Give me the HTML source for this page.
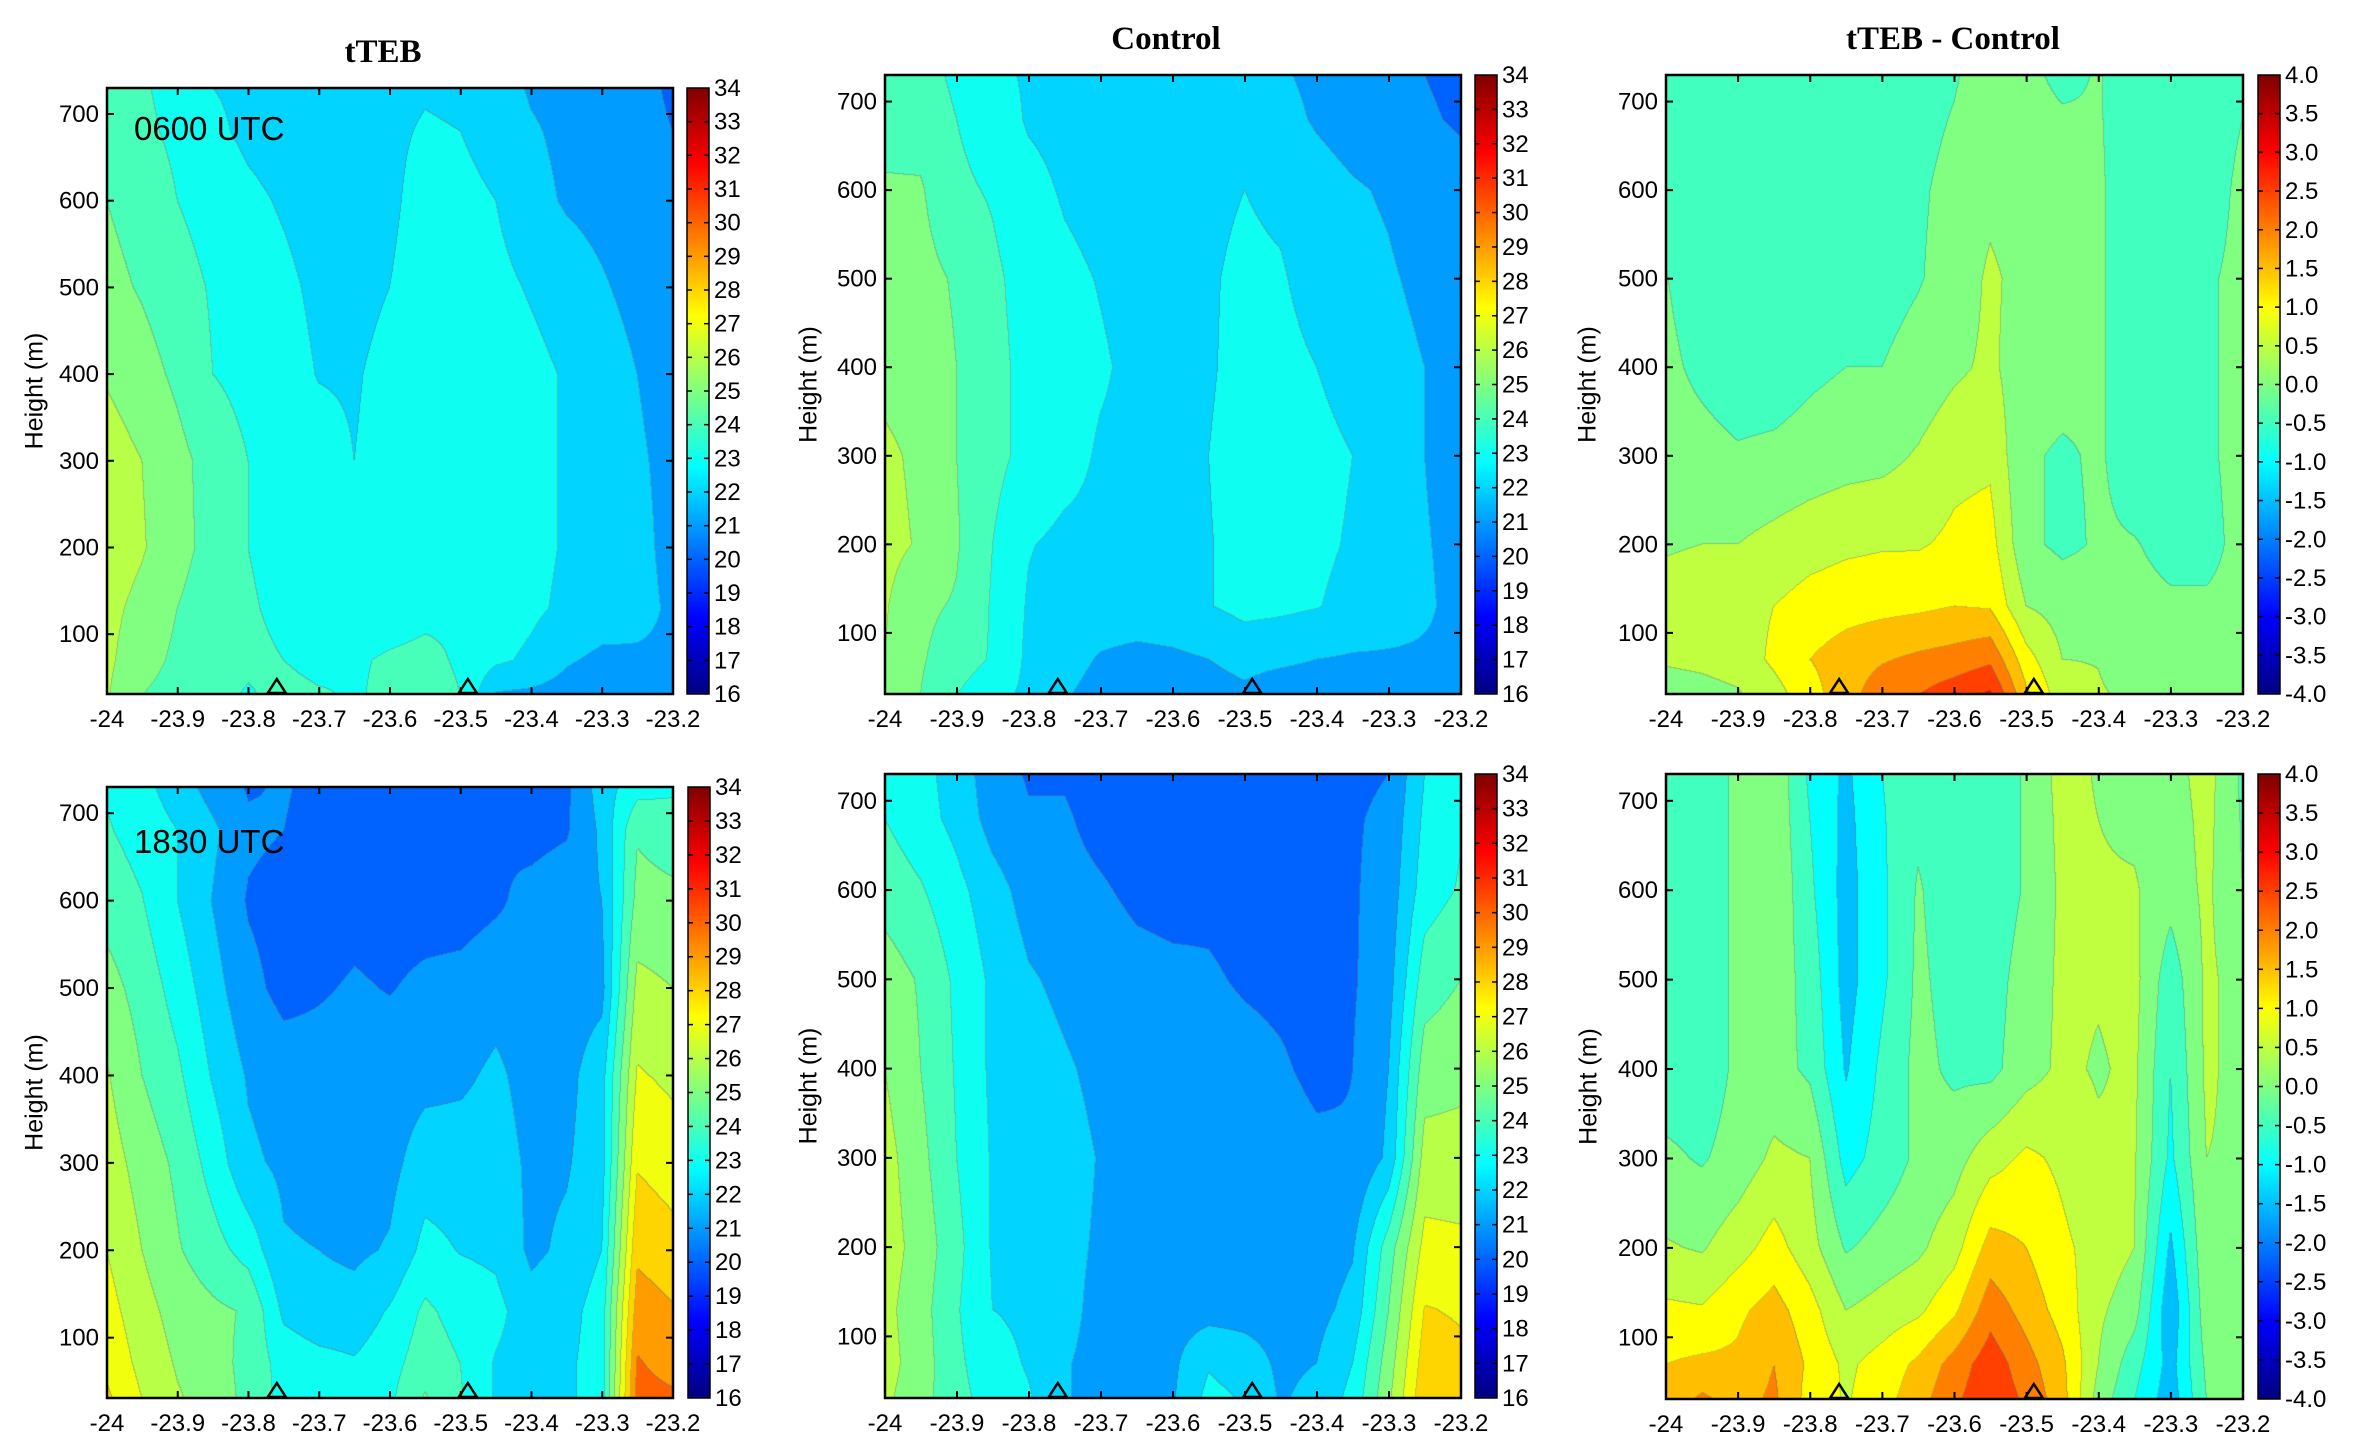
<!DOCTYPE html>
<html><head><meta charset="utf-8">
<style>
html,body{margin:0;padding:0;background:#fff;}
#wrap{position:relative;width:2355px;height:1443px;overflow:hidden;background:#fff;}
canvas{position:absolute;}
svg{position:absolute;left:0;top:0;}
</style></head>
<body>
<div id="wrap">
<canvas id="c1"></canvas>
<canvas id="c2"></canvas>
<canvas id="c3"></canvas>
<canvas id="c4"></canvas>
<canvas id="c5"></canvas>
<canvas id="c6"></canvas>
<svg id="ov" width="2355" height="1443"></svg>
</div>
<script>
// grid: longitudes and heights
const lons = [-24,-23.95,-23.9,-23.85,-23.8,-23.75,-23.7,-23.65,-23.6,-23.55,-23.5,-23.45,-23.4,-23.35,-23.3,-23.25,-23.2];
const heights = [30,70,130,200,300,400,500,600,680,730];
const xTickLabels = ["-24","-23.9","-23.8","-23.7","-23.6","-23.5","-23.4","-23.3","-23.2"];
const yTickLabels = ["100","200","300","400","500","600","700"];
const tempLabels = ["16","17","18","19","20","21","22","23","24","25","26","27","28","29","30","31","32","33","34"];
const diffLabels = ["-4.0","-3.5","-3.0","-2.5","-2.0","-1.5","-1.0","-0.5","0.0","0.5","1.0","1.5","2.0","2.5","3.0","3.5","4.0"];
const stations = [-23.76,-23.49];

const tteb0600 = [
[25.1,24.0,23.6,23.3,22.9,23.3,23.1,22.9,23.2,23.4,23.0,20.9,20.8,20.6,20.5,20.5,20.6],
[25.2,24.4,23.8,23.4,23.2,23.0,22.7,22.9,23.1,23.2,22.9,22.2,21.8,21.1,20.8,20.9,20.9],
[25.3,24.7,24.0,23.5,23.1,22.8,22.6,22.5,22.6,22.8,22.9,22.5,22.2,21.8,21.5,21.2,20.9],
[25.6,25.1,24.3,23.7,23.0,22.7,22.5,22.4,22.4,22.6,22.7,22.5,22.3,21.9,21.6,21.2,20.8],
[25.5,25.0,24.3,23.6,23.0,22.7,22.4,22.0,22.4,22.6,22.7,22.6,22.3,21.9,21.6,21.1,20.8],
[24.9,24.4,23.8,23.0,22.7,22.4,21.95,21.9,22.3,22.6,22.7,22.6,22.3,21.9,21.5,21.0,20.7],
[24.3,23.9,23.4,22.9,22.5,22.2,21.8,21.7,22.0,22.5,22.6,22.3,21.9,21.5,21.1,20.7,20.5],
[24.0,23.6,23.0,22.6,22.2,21.9,21.6,21.6,21.8,22.4,22.3,22.0,21.3,20.9,20.7,20.5,20.4],
[23.8,23.2,22.8,22.2,21.8,21.6,21.5,21.5,21.8,22.1,22.0,21.6,21.1,20.8,20.6,20.2,20.0],
[23.6,23.1,22.7,22.0,21.8,21.6,21.5,21.5,21.7,21.9,21.8,21.4,20.9,20.7,20.5,20.2,19.9]];
const control0600 = [
[24.6,24.0,23.0,22.3,21.8,21.1,20.6,20.4,20.5,20.6,20.8,20.4,20.3,20.3,20.4,20.5,20.5],
[25.0,24.1,23.5,22.9,21.8,21.4,20.9,20.7,20.8,21.0,21.3,21.2,21.0,20.9,20.9,20.9,20.9],
[25.1,24.2,23.9,22.9,21.9,21.7,21.6,21.6,21.7,21.95,22.3,22.2,22.05,21.7,21.4,21.1,20.8],
[25.3,24.9,24.1,23.0,22.05,21.8,21.8,21.7,21.7,21.95,22.3,22.3,22.2,21.9,21.5,21.05,20.8],
[25.2,24.8,24.0,23.3,22.7,22.3,21.9,21.8,21.7,22.0,22.4,22.4,22.3,22.0,21.5,21.0,20.7],
[24.7,24.5,24.0,23.3,22.7,22.4,22.1,21.8,21.7,21.9,22.3,22.3,22.0,21.6,21.3,21.0,20.7],
[24.6,24.3,23.9,23.2,22.6,22.2,21.95,21.7,21.7,21.9,22.2,22.1,21.6,21.3,21.1,20.8,20.4],
[24.1,24.1,23.2,22.9,22.3,21.9,21.7,21.6,21.6,21.8,22.0,21.8,21.4,21.1,20.9,20.5,20.3],
[23.7,23.6,23.0,22.5,21.9,21.7,21.6,21.5,21.5,21.5,21.6,21.3,20.9,20.6,20.4,20.1,19.9],
[23.7,23.4,22.8,22.2,21.9,21.7,21.6,21.5,21.5,21.5,21.4,21.1,20.8,20.5,20.3,20.0,19.8]];
const diff0600 = [
[0.3,0.35,0.45,0.8,1.3,1.8,2.3,2.5,2.8,3.1,1.6,0.7,0.55,0.4,0.2,0.1,0.1],
[0.55,0.6,0.7,1.1,1.5,1.75,1.95,2.1,2.2,2.4,1.2,0.5,0.48,0.2,0.1,0.05,0.1],
[0.7,0.75,0.8,1.0,1.2,1.3,1.35,1.4,1.5,1.45,0.5,0.3,0.2,0.1,0.05,0.05,0.1],
[0.45,0.5,0.5,0.65,0.8,0.9,0.95,0.95,1.1,1.2,0.1,-0.1,0.05,0.02,-0.1,-0.1,0.1],
[0.2,0.15,0.05,0.1,0.2,0.3,0.35,0.55,0.85,0.9,0.05,-0.05,0.05,-0.2,-0.3,-0.05,0.1],
[0.1,-0.1,-0.25,-0.25,-0.1,0.0,0.0,0.15,0.4,0.6,0.2,0.15,0.05,-0.2,-0.3,-0.05,0.1],
[0.02,-0.25,-0.35,-0.35,-0.3,-0.25,-0.15,-0.03,0.15,0.6,0.3,0.15,0.05,-0.2,-0.3,-0.05,0.1],
[-0.1,-0.3,-0.35,-0.35,-0.3,-0.25,-0.15,-0.05,0.1,0.35,0.2,0.1,0.05,-0.2,-0.3,-0.2,0.1],
[-0.3,-0.35,-0.35,-0.35,-0.3,-0.3,-0.2,-0.1,0.02,0.2,0.15,0.05,0.03,-0.2,-0.3,-0.2,0.0],
[-0.3,-0.35,-0.35,-0.35,-0.3,-0.3,-0.25,-0.15,-0.03,0.15,0.1,-0.1,0.03,-0.2,-0.3,-0.2,-0.05]];
const tteb1830 = [
[27.2,26.0,25.1,24.6,23.7,22.7,22.4,22.2,22.8,24.1,23.1,21.9,21.6,21.8,22.5,29.4,29.2],
[26.8,25.7,24.9,24.4,23.7,22.6,22.3,22.1,22.6,23.6,23.0,21.9,21.5,21.8,22.5,29.1,28.6],
[26.4,25.4,24.6,24.2,23.9,21.8,21.4,21.4,22.1,23.2,22.6,22.3,21.4,21.6,22.5,28.5,28.1],
[26.0,25.0,24.1,23.4,22.6,21.1,21.0,20.8,21.1,22.3,21.95,21.8,20.8,21.2,22.0,27.8,27.4],
[25.5,24.6,23.8,22.6,21.2,20.8,20.6,20.5,20.7,21.5,21.5,21.5,20.8,20.9,21.6,26.9,26.5],
[25.1,24.0,23.2,21.9,20.9,20.5,20.4,20.5,20.5,20.7,20.8,21.2,20.6,20.7,21.6,26.1,25.8],
[24.4,23.6,22.6,21.4,20.3,19.7,19.9,20.1,19.95,20.2,20.3,20.6,20.4,20.5,20.7,25.3,25.0],
[23.6,23.05,22.0,20.95,19.9,19.6,19.5,19.7,19.6,19.6,19.6,19.85,20.3,20.6,21.0,24.3,24.2],
[23.1,22.6,22.0,21.2,20.2,20.0,19.6,19.6,19.6,19.6,19.8,19.95,19.7,19.9,21.2,23.9,23.6],
[22.9,22.3,21.5,20.6,19.9,20.1,19.7,19.6,19.6,19.6,19.6,19.6,19.6,19.8,21.5,22.6,22.8]];
const control1830 = [
[25.2,24.4,23.3,22.6,22.1,21.05,20.8,20.7,20.9,22.3,21.9,20.9,21.3,22.3,24.8,27.8,27.5],
[25.4,24.5,23.2,22.4,21.9,21.05,20.8,20.7,20.8,21.9,21.5,20.8,21.0,22.0,24.5,27.5,27.2],
[25.3,24.4,23.1,22.0,21.8,21.2,20.8,20.6,20.6,20.6,20.6,20.6,20.7,21.3,24.0,27.05,26.9],
[25.5,24.6,23.3,21.9,21.6,21.2,20.9,20.7,20.6,20.6,20.5,20.5,20.5,20.9,23.5,26.3,26.2],
[25.4,24.3,23.0,21.9,21.6,21.3,20.95,20.7,20.6,20.5,20.5,20.4,20.2,20.05,21.2,25.4,25.4],
[25.0,24.0,22.9,21.8,21.4,21.1,20.8,20.6,20.5,20.4,20.3,20.1,19.8,20.0,21.0,24.5,24.7],
[24.5,23.9,22.8,21.8,21.1,20.8,20.5,20.3,20.2,20.1,19.9,19.8,19.7,19.9,20.6,23.5,24.0],
[23.6,23.1,22.3,21.4,20.6,20.3,20.1,19.8,19.7,19.8,19.7,19.6,19.6,19.9,20.4,22.5,23.1],
[23.0,22.4,21.7,20.6,20.1,20.1,19.7,19.5,19.5,19.5,19.6,19.6,19.6,19.9,20.2,22.2,22.9],
[22.8,22.3,21.6,20.4,19.9,19.9,19.6,19.5,19.5,19.5,19.5,19.5,19.5,19.8,20.0,22.0,22.7]];
const diff1830 = [
[1.7,2.1,1.8,2.1,1.3,0.95,1.3,1.8,2.4,2.9,2.4,1.7,0.3,-0.5,-1.3,0.0,0.1],
[1.5,1.6,1.6,2.0,1.4,0.9,1.2,1.6,2.2,2.8,2.2,1.6,0.5,-0.3,-1.2,0.1,0.1],
[1.1,1.05,1.4,1.7,1.2,0.5,0.7,0.9,1.4,2.3,1.8,1.3,0.6,0.2,-1.4,0.3,0.2],
[0.55,0.45,0.8,1.2,0.7,-0.05,0.2,0.4,0.8,1.7,1.5,1.1,0.8,0.5,-1.1,0.4,0.3],
[0.1,-0.05,0.2,0.6,0.5,-0.7,-0.3,0.1,0.3,0.8,1.1,0.9,0.6,0.55,-0.6,0.5,0.4],
[-0.3,-0.3,0.1,0.2,-0.1,-1.05,-0.4,0.15,-0.1,-0.15,0.3,0.6,0.45,0.6,-0.5,0.6,0.3],
[-0.3,-0.3,0.1,0.3,-0.2,-1.2,-0.6,0.1,-0.2,-0.2,0.2,0.6,0.55,0.65,-0.3,0.6,0.3],
[-0.3,-0.3,0.1,0.45,-0.4,-1.2,-0.6,0.05,-0.3,-0.3,0.05,0.6,0.55,0.55,0.2,0.6,0.0],
[-0.3,-0.3,0.1,0.4,-0.5,-1.15,-0.55,-0.1,-0.3,-0.3,0.05,0.65,0.5,0.4,0.25,0.65,-0.05],
[-0.3,-0.3,0.1,0.4,-0.6,-1.1,-0.5,-0.2,-0.3,-0.3,0.05,0.7,0.45,0.25,0.3,0.7,-0.1]];

const XMIN=-24, XMAX=-23.2, YMIN=31, YMAX=730;
const panels = [
 {id:'c1', name:'tteb-0600', data:tteb0600, L:107, T:88, W:566, H:606, cb:687, kind:'t', title:'tTEB', tx:383, ty:62, hx:36, tag:'0600 UTC', tagy:140},
 {id:'c2', name:'control-0600', data:control0600, L:885, T:75, W:576, H:619, cb:1475, kind:'t', title:'Control', tx:1166, ty:49, hx:810},
 {id:'c3', name:'diff-0600', data:diff0600, L:1666, T:75, W:577, H:619, cb:2258, kind:'d', title:'tTEB - Control', tx:1953, ty:49, hx:1589},
 {id:'c4', name:'tteb-1830', data:tteb1830, L:107, T:787, W:566, H:611, cb:688, kind:'t', hx:36, tag:'1830 UTC', tagy:853},
 {id:'c5', name:'control-1830', data:control1830, L:885, T:774, W:576, H:624, cb:1475, kind:'t', hx:810},
 {id:'c6', name:'diff-1830', data:diff1830, L:1666, T:774, W:577, H:625, cb:2258, kind:'d', hx:1590}
];

function jet(t){
  const c=v=>Math.max(0,Math.min(1,v));
  return [c(1.5-Math.abs(4*t-3))*255, c(1.5-Math.abs(4*t-2))*255, c(1.5-Math.abs(4*t-1))*255];
}
function bandInfo(kind){
  if(kind==='t') return {vmin:16, step:1, n:18, col:k=>jet((k+1)/18)};
  return {vmin:-4, step:0.5, n:16, col:k=>jet(k/16)};
}
function sample(data,x,y){
  let fi=(x-XMIN)/0.05; if(fi<0)fi=0; if(fi>15.9999)fi=15.9999;
  const i=Math.floor(fi), fx=fi-i;
  let yy=Math.max(heights[0],Math.min(heights[heights.length-1],y));
  let j=0; while(j<heights.length-2 && yy>heights[j+1]) j++;
  const fy=(yy-heights[j])/(heights[j+1]-heights[j]);
  const a=data[j][i],b=data[j][i+1],c=data[j+1][i],d=data[j+1][i+1];
  return (a*(1-fx)+b*fx)*(1-fy)+(c*(1-fx)+d*fx)*fy;
}
function render(p){
  const cv=document.getElementById(p.id);
  cv.width=p.W; cv.height=p.H;
  cv.style.left=p.L+'px'; cv.style.top=p.T+'px';
  const ctx=cv.getContext('2d');
  const img=ctx.createImageData(p.W,p.H);
  const bi=bandInfo(p.kind);
  const bands=new Int16Array(p.W*p.H);
  for(let py=0;py<p.H;py++){
    const y=YMAX-(YMAX-YMIN)*(py+0.5)/p.H;
    for(let px=0;px<p.W;px++){
      const x=XMIN+(XMAX-XMIN)*(px+0.5)/p.W;
      let k=Math.floor((sample(p.data,x,y)-bi.vmin)/bi.step);
      if(k<0)k=0; if(k>bi.n-1)k=bi.n-1;
      bands[py*p.W+px]=k;
    }
  }
  const cols=[]; for(let k=0;k<bi.n;k++) cols.push(bi.col(k));
  for(let py=0;py<p.H;py++){
    for(let px=0;px<p.W;px++){
      const idx=py*p.W+px, k=bands[idx];
      let c=cols[k];
      let edge=(px<p.W-1&&bands[idx+1]!==k)||(py<p.H-1&&bands[idx+p.W]!==k);
      const o=idx*4;
      if(edge){ img.data[o]=c[0]*0.6+45; img.data[o+1]=c[1]*0.6+45; img.data[o+2]=c[2]*0.6+45; }
      else { img.data[o]=c[0]; img.data[o+1]=c[1]; img.data[o+2]=c[2]; }
      img.data[o+3]=255;
    }
  }
  ctx.putImageData(img,0,0);
}

const NS='http://www.w3.org/2000/svg';
const svg=document.getElementById('ov');
function mk(tag,attrs,txt,parent){
  const e=document.createElementNS(NS,tag);
  for(const k in attrs) e.setAttribute(k,attrs[k]);
  if(txt!==undefined&&txt!==null) e.textContent=txt;
  (parent||svg).appendChild(e); return e;
}
const FONT='"Liberation Sans", "DejaVu Sans", sans-serif';

// continuous jet gradient for colorbars
const defs=mk('defs',{});
const grad=mk('linearGradient',{id:'jetgrad',x1:0,y1:1,x2:0,y2:0},null,defs);
for(let s=0;s<=32;s++){
  const t=s/32, c=jet(t);
  mk('stop',{offset:t,'stop-color':'rgb('+Math.round(c[0])+','+Math.round(c[1])+','+Math.round(c[2])+')'},null,grad);
}

panels.forEach(p=>{
  render(p);
  const xs=v=>p.L+(v-XMIN)/(XMAX-XMIN)*p.W;
  const ys=v=>p.T+(YMAX-v)/(YMAX-YMIN)*p.H;
  const B=p.T+p.H, R=p.L+p.W;
  xTickLabels.forEach(s=>{
    const X=xs(parseFloat(s));
    const t1=mk('line',{x1:X,x2:X,y1:B,y2:B-7,stroke:'#000','stroke-width':2});
    
    
    const t2=mk('line',{x1:X,x2:X,y1:p.T,y2:p.T+7,stroke:'#000','stroke-width':2});
    
    
    const tl=mk('text',{x:X,y:B+33,'text-anchor':'middle','font-size':24,'font-family':FONT,fill:'#000'},s);
    
    
  });
  yTickLabels.forEach(s=>{
    const Y=ys(parseFloat(s));
    const t1=mk('line',{x1:p.L,x2:p.L+7,y1:Y,y2:Y,stroke:'#000','stroke-width':2});
    
    
    const t2=mk('line',{x1:R,x2:R-7,y1:Y,y2:Y,stroke:'#000','stroke-width':2});
    
    
    const tl=mk('text',{x:p.L-8,y:Y+8,'text-anchor':'end','font-size':24,'font-family':FONT,fill:'#000'},s);
    
    
  });
  const fr=mk('rect',{x:p.L,y:p.T,width:p.W,height:p.H,fill:'none',stroke:'#000','stroke-width':2.5});
  
  
  stations.forEach(v=>{
    const X=xs(v);
    const tr=mk('polygon',{points:(X-9)+','+(B-1)+' '+(X+9)+','+(B-1)+' '+X+','+(B-15),fill:'none',stroke:'#000','stroke-width':2.5});
    
    
  });
  const ht=mk('text',{x:p.hx,y:p.T+p.H/2,'text-anchor':'middle','font-size':25,'font-family':FONT,fill:'#000',transform:'rotate(-90 '+(p.hx)+' '+(p.T+p.H/2)+')','dominant-baseline':'middle'},'Height (m)');
  
  
  if(p.title){
    const tt=mk('text',{x:p.tx,y:p.ty,'text-anchor':'middle','font-size':33,'font-weight':'bold','font-family':'"Liberation Serif", serif',fill:'#000'},p.title);
    
    
  }
  if(p.tag){
    const tg=mk('text',{x:p.L+27,y:p.tagy,'font-size':33,'font-family':FONT,fill:'#000'},p.tag);
    
    
  }
  const labels=p.kind==='t'?tempLabels:diffLabels;
  const cbw=22, bh=p.H/(labels.length-1);
  const cbr=mk('rect',{x:p.cb,y:p.T,width:cbw,height:p.H,fill:'url(#jetgrad)'});
  
  
  labels.forEach((s,k)=>{
    const Y=B-k*bh;
    if(k>0&&k<labels.length-1){
      const a=mk('line',{x1:p.cb,x2:p.cb+5,y1:Y,y2:Y,stroke:'#000','stroke-width':1.5});
      
      
      const b=mk('line',{x1:p.cb+cbw,x2:p.cb+cbw-5,y1:Y,y2:Y,stroke:'#000','stroke-width':1.5});
      
      
    }
    const l=mk('text',{x:p.cb+cbw+5,y:Y+8,'font-size':24,'font-family':FONT,fill:'#000'},s);
    
    
  });
  const cf=mk('rect',{x:p.cb,y:p.T,width:cbw,height:p.H,fill:'none',stroke:'#000','stroke-width':1.5});
  
  
});
</script>
</body></html>
